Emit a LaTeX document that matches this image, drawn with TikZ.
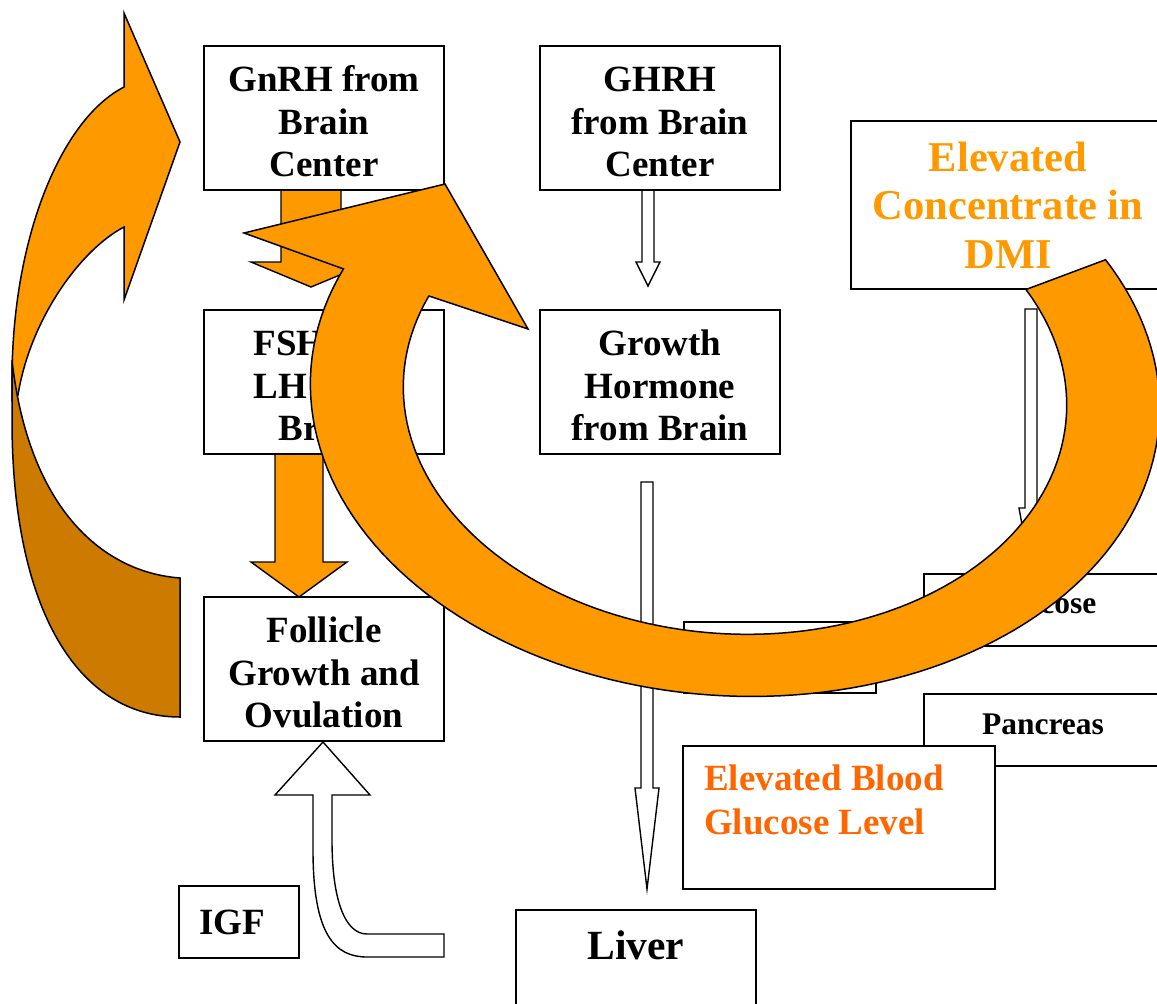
\documentclass[tikz,border=0pt]{standalone}
\usepackage{fontspec}
\setmainfont{Liberation Serif}
\definecolor{org}{HTML}{FF9900}
\definecolor{orgdark}{HTML}{CC7A00}
\definecolor{redorg}{HTML}{FF6600}
\begin{document}
\begin{tikzpicture}[x=1pt,y=-1pt,
  box/.style={draw=black, fill=white, line width=1.8pt, inner sep=0pt, align=center,
    font=\bfseries\fontsize{37}{42.5}\selectfont},
  bigbox/.style={box, minimum width=240pt, minimum height=144pt, text height=118pt},
  smallbox/.style={box, minimum width=238pt, minimum height=72pt,
    font=\bfseries\fontsize{31.5}{36}\selectfont},
  blockline/.style={draw=black, line width=1.4pt, line join=miter},
  orangearrow/.style={blockline, fill=org},
  whitearrow/.style={blockline, fill=white},
  bandline/.style={draw=black, line width=1.5pt, line join=miter},
]
\clip (0,0) rectangle (1157,1004);

% ---- straight and bent block arrows (under the boxes) ----
\draw[orangearrow] (281,186) -- (281,262) -- (251,262) -- (311,287) -- (371,262) -- (341,262) -- (341,186) -- cycle;
\draw[orangearrow] (275,450) -- (275,562) -- (251,562) -- (299,597) -- (347,562) -- (323,562) -- (323,450) -- cycle;
\draw[whitearrow] (642,186) -- (642,262) -- (636,262) -- (648,286) -- (660,262) -- (654,262) -- (654,186) -- cycle;
\draw[whitearrow] (641,482) -- (641,788) -- (635,788) -- (647,889) -- (659,788) -- (653,788) -- (653,482) -- cycle;
\draw[whitearrow] (1025,309) -- (1025,508) -- (1019,508) -- (1031,574) -- (1043,508) -- (1037,508) -- (1037,309) -- cycle;
\draw[whitearrow] (323,742) -- (370,795) -- (332,795) -- (332,840)
  .. controls (332,900) and (345,934) .. (367,934) -- (444,934) -- (444,957) -- (367,957)
  .. controls (335,957) and (313,935) .. (313,850) -- (313,795) -- (275,795) -- cycle;

% ---- boxes ----
\node[bigbox] (gnrh) at (324,118) {GnRH from\\Brain\\Center};
\node[bigbox] (ghrh) at (660,118) {GHRH\\from Brain\\Center};
\node[bigbox] (fsh)  at (324,382) {FSH and\\LH from\\Brain};
\node[bigbox] (gh)   at (660,382) {Growth\\Hormone\\from Brain};
\node[bigbox] (foll) at (324,669) {Follicle\\Growth and\\Ovulation};
\node[box, minimum width=120pt, minimum height=72pt, text width=80pt, align=left] (igf) at (239,922) {IGF};
\node[box, minimum width=240pt, minimum height=140pt] (liver) at (636,980) {};
\node[font=\bfseries\fontsize{41.5}{48}\selectfont, anchor=base] (livertext) at (636,959) {Liver};
\node[box, minimum width=314pt, minimum height=168pt, text=org,
  font=\bfseries\fontsize{42.5}{48.5}\selectfont] (dmi) at (1008,205) {Elevated\\Concentrate in\\DMI};
\node[smallbox, text depth=15pt] (glucose) at (1043,610) {Glucose};
\node[box, minimum width=192pt, minimum height=71pt] (empty) at (780,657.5) {};
\node[smallbox, text depth=11pt] (pancreas) at (1043,730) {Pancreas};
\node[box, minimum width=312pt, minimum height=143pt] (blood) at (839,817.5) {};
\node[font=\bfseries\fontsize{37}{44}\selectfont, text=redorg, anchor=base west, inner sep=0pt] (blood1) at (704,790) {Elevated Blood};
\node[font=\bfseries\fontsize{37}{44}\selectfont, text=redorg, anchor=base west, inner sep=0pt] (blood2) at (704,834) {Glucose Level};

% ---- left curved arrow (front face, then underside) ----
\draw[bandline, fill=org] (124,13) -- (180,142) -- (124,300) -- (124,227)
  .. controls (80,250) and (30,320) .. (18,395) -- (12,400) -- (12,380)
  .. controls (12,240) and (60,120) .. (124,87) -- cycle;
\draw[bandline, fill=orgdark] (180,578) .. controls (100,572) and (28,505) .. (12,360)
  -- (12,420) .. controls (12,610) and (78,717) .. (180,717) -- cycle;

% ---- big circular arrow ----
\draw[bandline, fill=org]
  plot[domain=-31.5:200.5, samples=120, variable=\t]
    ({735+425*cos(\t)*cos(3.2)-300*sin(\t)*sin(3.2)}, {396+425*cos(\t)*sin(3.2)+300*sin(\t)*cos(3.2)})
  -- (244,233) -- (445,184) -- (528,329) -- (429,296)
  -- plot[domain=0:231, samples=120, variable=\t]
    ({735+332*cos(200-\t)*cos(3.2)-238*sin(200-\t)*sin(3.2)}, {396+332*cos(200-\t)*sin(3.2)+238*sin(200-\t)*cos(3.2)})
  -- cycle;
\end{tikzpicture}
\end{document}
